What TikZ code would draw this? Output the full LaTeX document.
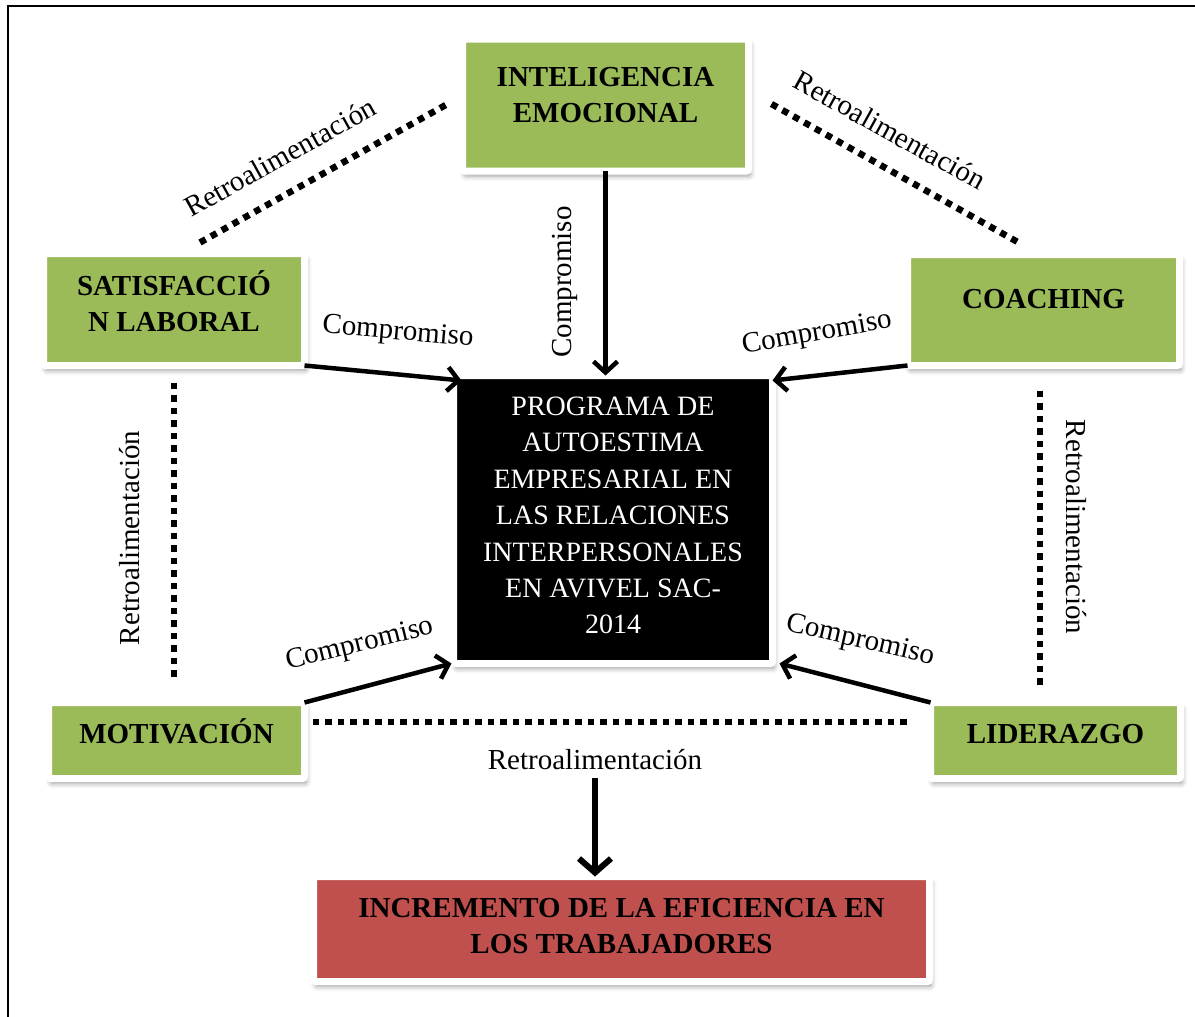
\documentclass[tikz,border=0pt]{standalone}
\usepackage{fontspec}
\setmainfont{Liberation Serif}
\usetikzlibrary{arrows.meta,calc,shadows.blur}
\definecolor{leafgreen}{HTML}{9BBB59}
\definecolor{brickred}{HTML}{C0504D}
\newcommand*{\rim}{7pt}
\tikzset{
	card/.style={
		rectangle,
		draw=white,
		line width=\rim,
		rounded corners=2pt,
		fill=#1,
		align=center,
		inner sep=0pt,
		outer sep=0pt,
		blur shadow={shadow xshift=2pt, shadow yshift=-5pt, shadow blur radius=5pt, shadow opacity=40}
	},
	factor/.style={
		card=leafgreen,
		font=\fontsize{29}{36}\selectfont\bfseries
	},
	link/.style={
		line width=4.5pt,
		-{Straight Barb[length=11pt,width=24pt]}
	},
	feedback/.style={
		line width=6.5pt,
		dash pattern=on 6.5pt off 6pt
	},
	note/.style={
		font=\fontsize{29}{34}\selectfont,
		inner sep=0pt
	}
}

\begin{document}
\begin{tikzpicture}[x=1pt,y=-1pt]
	\useasboundingbox (0,0) rectangle (1195,1017);
	\draw[line width=2.5pt] (8,1017) -- (8,6) -- (1195,6);

	% boxes
	\node (ie) [factor, text depth=20pt, minimum width=286, minimum height=132] at (605.5,105) {INTELIGENCIA\\EMOCIONAL};
	\node (sat) [factor, text depth=16pt, minimum width=261, minimum height=112] at (174,309.5) {SATISFACCIÓ\\N LABORAL};
	\node (coach) [factor, text depth=22pt, minimum width=272, minimum height=111] at (1043.5,310) {COACHING};
	\node (mot) [factor, text depth=18pt, minimum width=256, minimum height=76] at (176.5,740.5) {MOTIVACIÓN};
	\node (lid) [factor, text depth=14pt, minimum width=250, minimum height=76] at (1055.5,740.5) {LIDERAZGO};
	\node (prog) [card=black, text=white, font=\fontsize{28}{36.4}\selectfont, text depth=8pt, minimum width=319, minimum height=288] at (613,519.5)
		{PROGRAMA DE\\AUTOESTIMA\\EMPRESARIAL EN\\LAS RELACIONES\\INTERPERSONALES\\EN AVIVEL SAC-\\2014};
	\node (inc) [card=brickred, font=\fontsize{29}{36}\selectfont\bfseries, text depth=6pt, minimum width=616, minimum height=105] at (621.5,929)
		{INCREMENTO DE LA EFICIENCIA EN\\LOS TRABAJADORES};

	% compromiso
	\draw[link] (ie.south) -- (ie.south |- prog.north);
	\draw[link] (sat.south east) -- ($(prog.north west)+(8,5)$);
	\draw[link] (coach.south west) -- ($(prog.north east)+(0,5)$);
	\draw[link] (mot.north east) -- ($(prog.south west)+(-2,0)$);
	\draw[link] (lid.north west) -- ($(prog.south east)+(7,0)$);

	% retroalimentacion
	\draw[feedback] ($(sat.north)+(26,-11)$) -- ($(ie.west)+(-15,-1)$);
	\draw[feedback] ($(ie.east)+(23,-1)$) -- ($(coach.north)+(-25,-12)$);
	\draw[feedback] ($(sat.south)+(0,17)$) -- ($(mot.north)+(-2.5,-22)$);
	\draw[feedback] ($(coach.south)+(-3.5,25)$) -- ($(lid.north)+(-15.5,-14)$);
	\draw[feedback] ($(mot.east)+(8,-18.5)$) -- ($(lid.west)+(-24,-18.5)$);

	% labels
	\node (r1) [note, rotate=29] at (280,157) {Retroalimentación};
	\node (r2) [note, rotate=-29] at (890,130) {Retroalimentación};
	\node (r3) [note, rotate=90] at (130,538) {Retroalimentación};
	\node (r4) [note, rotate=-90] at (1076,527) {Retroalimentación};
	\node (r5) [note] at (595,760) {Retroalimentación};
	\node (c1) [note, rotate=90] at (565,282) {Compromiso};
	\node (c2) [note, rotate=-5] at (398,333) {Compromiso};
	\node (c3) [note, rotate=10] at (817,334) {Compromiso};
	\node (c4) [note, rotate=14] at (360,645) {Compromiso};
	\node (c5) [note, rotate=-13] at (860,641) {Compromiso};

	\draw[line width=6pt, -{Straight Barb[length=14pt,width=32pt]}] ($(r5.south)+(0,8)$) -- (r5.south |- inc.north);
\end{tikzpicture}
\end{document}
